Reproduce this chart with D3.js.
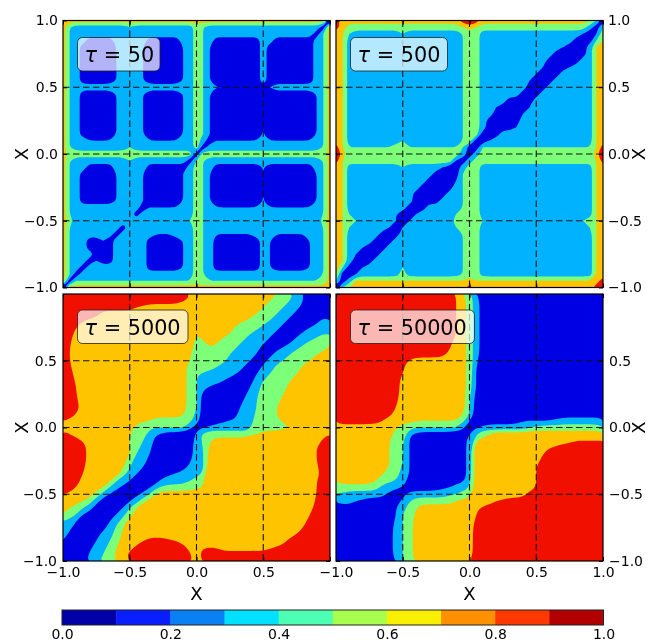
<!DOCTYPE html>
<html>
<head>
<meta charset="utf-8">
<script src="https://cdn.jsdelivr.net/npm/d3@7"></script>
<style>
  html, body { margin: 0; padding: 0; background: #fff; }
  svg { display: block; filter: blur(0.4px); }
  text { font-family: "DejaVu Sans", sans-serif; fill: #000; }
</style>
</head>
<body>
<div id="chart"></div>
<script>
// values, one row per y from 1.0 down to -1.0, 41 nodes per row
// each char is the value * 10, "b" = 1.1 (spaces are only there to help counting)
var tau50Rows = [
"7777777777 7777777777 7777777777 7777777777 1",
"74 3333333343 3333333 354 333333333 33333333 17",
"74 3333333333 3333333 354 333333333 33333331 47",
"74 3311113333 3111113 354 311111113 31111113 47",
"74 3111112333 2111112 354 211111113 11111113 47",
"74 3111112333 2111112 354 211111113 11111113 47",
"74 3111112333 2111112 354 211111113 11111113 47",
"74 3111112333 2111112 354 211111113 11111113 47",
"74 3111112333 2111112 354 211111113 11111113 47",
"74 3111112333 2111112 354 211111113 11111113 47",
"74 3333333333 3333333 354 322222221 23333333 47",
"74 3111112333 2111112 354 211111112 11111112 47",
"74 3111112333 2111112 354 211111112 11111112 47",
"74 3111112333 2111112 354 211111112 11111112 47",
"74 3111112333 2111112 354 211111112 11111112 47",
"74 3111112333 2111112 354 211111112 11111112 47",
"74 3111112333 2111112 354 211111112 11111112 47",
"74 3111112333 2111112 354 211111112 11111112 47",
"74 3322222333 3222223 353 122222222 22222223 47",
"74 3333333343 3333333 351 333333333 33333333 47",
"7555555555 5555555555 1555555555 5555555555 7",
"74 3333333343 3333333 144 333333333 33333333 47",
"74 3311113333 3111111 354 311111112 11111113 47",
"74 3111112333 2111112 354 211111112 11111112 47",
"74 3111112333 2111112 354 211111112 11111112 47",
"74 3111112333 2111112 354 211111112 11111112 47",
"74 3111112333 2111112 354 211111112 11111112 47",
"74 3111112333 2111112 354 211111112 11111112 47",
"74 3333333333 1222223 354 322222222 22222223 47",
"74 3333333331 3333333 354 333333333 33333333 47",
"75 3333333333 3333333 454 333333333 33333333 57",
"74 3333333133 3333333 354 333333333 33333333 47",
"74 3333331333 3322233 354 322222233 32222233 47",
"74 3311213333 3111112 354 311111113 21111123 47",
"74 3311113333 3111112 354 311111113 21111123 47",
"74 3331113333 3111112 354 311111113 21111123 47",
"74 3312113333 3111112 354 311111113 21111123 47",
"74 3133333333 3111112 354 311111113 21111123 47",
"74 1333333333 3333333 354 333333333 33333333 47",
"71 444444444444444444 5 444444444444444444 47",
"1777777777 7777777777 7777777777 7777777777 7"
];

var tau500Rows = [
"9777777777 7777777779 b977777777 7777777764 1",
"9755555555 5555555556 7655555555 5555555531 4",
"7643333333 4333333334 5533333333 3333333212 5",
"7633333333 3333333334 5533333333 3333331114 6",
"7633333333 3333333334 5533333333 3333211136 7",
"7633333333 3333333334 5533333333 3331111136 7",
"7633333333 3333333334 5533333333 3311111336 7",
"7633333333 3333333334 5533333333 3211123336 7",
"7633333333 3333333334 5533333333 2111333336 7",
"7633333333 3333333334 5533333332 1113333336 7",
"7633333333 3333333334 5533333331 1133333336 7",
"7633333333 3333333334 5533333311 1333333336 7",
"7633333333 3333333334 5533331111 3333333336 7",
"7633333333 3333333334 5533211112 3333333336 7",
"7633333333 3333333334 5533111123 3333333336 7",
"7633333333 3333333334 5531111133 3333333336 7",
"7633333333 3333333334 5531111233 3333333336 7",
"7633333333 3333333334 5511133333 3333333336 7",
"7633333333 4333333334 5112333333 3333333336 7",
"9644444445 5444444444 1144444444 4444444446 9",
"b755555555 5555555553 1355555555 5555555557 b",
"9655555555 5555555521 3555555555 5555555556 9",
"7633333333 4333332113 5533333333 3333333336 7",
"7633333333 3333311114 5533333333 3333333336 7",
"7633333333 3333111124 5533333333 3333333336 7",
"7633333333 3331111134 5533333333 3333333336 7",
"7633333333 3311111334 5533333333 3333333336 7",
"7633333333 3311113334 5533333333 3333333336 7",
"7633333333 3111333334 5533333333 3333333336 7",
"7643333332 1123333344 5533333333 3333333336 7",
"7654333332 1233333355 5543333333 3333333456 7",
"7643333321 2333333345 5533333333 3333333346 7",
"7633333111 3333333334 5533333333 3333333336 7",
"7633331113 3333333334 5533333333 3333333336 7",
"7633211133 3333333334 5533333333 3333333336 7",
"7632111333 3333333334 5533333333 3333333336 7",
"7631113333 3333333334 5533333333 3333333336 7",
"7411233333 4333333334 5533333333 3333333336 7",
"6112333333 5333333334 5533333333 3333333336 7",
"4136666666 6666666666 7666666666 6666666667 9",
"1467777777 7777777777 9777777777 7777777779 9"
];

var tau5000Rows = [
"9999999999 9999999998 7777777777 7765533111 1",
"9999999999 9999999997 7777777777 7655432111 1",
"9999999999 9877777777 7777777777 6554331111 1",
"9999997777 7777777777 7777777776 5543311111 1",
"9998777777 7777777777 7777777755 5433111113 3",
"9987777777 7777777777 7777775555 3331111233 3",
"9977777777 7777777777 6777765543 3311113334 5",
"9877777777 7777777777 5677555433 3111133455 6",
"9877777777 7777777777 5565554333 1112335555 6",
"9877777777 7777777777 5555543332 1133455567 7",
"9877777777 7777777776 5555533321 1334555677 7",
"9877777777 7777777775 5554333211 3355557777 7",
"9977777777 7777777775 4333332112 3455567777 7",
"9977777777 7777777775 4333211113 4555677777 7",
"9987777777 7777777775 4311111123 5555777777 7",
"9987777777 7777777775 4111111133 5556777777 7",
"9997777777 7777777775 4111111234 5557777777 7",
"9997777777 7777777775 4111111334 5567777777 7",
"9987777777 7777777775 3111111334 5567777777 7",
"9777777777 7776555555 3111123335 5557777777 7",
"7777777777 6444444443 1233333334 5555677777 7",
"9877777777 6543211111 3555555556 7777777777 8",
"9998777777 6543111111 3467777777 7777777779 9",
"9999777777 6533111111 3477777777 7777777789 9",
"9999777777 6432111111 3477777777 7777777789 9",
"9999777777 5331111111 3477777777 7777777789 9",
"9999777776 4321111113 3477777777 7777777779 9",
"9998777775 3211111333 3477777777 7777777779 9",
"9997777643 2111133334 5677777777 7777777789 9",
"9987776431 1112455555 5677777777 7777777789 9",
"9777753211 1134677777 7777777777 7777777789 9",
"7776531111 2357777777 7777777777 7777777799 9",
"7654311112 4677777777 7777777777 7777777799 9",
"6542111123 5777777777 7777777777 7777777899 9",
"5321111235 7777777777 7777777777 7777777899 9",
"3311111356 7777777777 7777777777 7777778999 9",
"3111113357 7777777777 7777777777 7777789999 9",
"2111123457 7789999877 7777777777 7777999999 9",
"1111133567 7999999997 7888777777 7799999999 9",
"1111334577 9999999999 7999999998 9999999999 9",
"1111335577 9999999999 7999999999 9999999999 9"
];

var tau50000Rows = [
"9999999999 9999999987 5311111111 1111111111 1",
"9999999999 9999999987 5311111111 1111111111 1",
"9999999999 9999999987 5311111111 1111111111 1",
"9999999999 9999999987 5311111111 1111111111 1",
"9999999999 9999999987 5311111111 1111111111 1",
"9999999999 9999999987 5311111111 1111111111 1",
"9999999999 9999999987 5311111111 1111111111 1",
"9999999999 9999999977 5311111111 1111111111 1",
"9999999999 9999999977 5311111111 1111111111 1",
"9999999999 9999999777 5311111111 1111111111 1",
"9999999999 9777777777 5311111111 1111111111 1",
"9999999999 8777777777 5211111111 1111111111 1",
"9999999999 8777777777 5211111111 1111111111 1",
"9999999999 7777777777 5211111111 1111111111 1",
"9999999999 7777777777 5211111111 1111111111 1",
"9999999999 7777777777 4111111111 1111111111 1",
"9999999999 7777777777 4111111111 1111111111 1",
"9999999998 7777777777 4111111111 1111111111 1",
"9999999997 7777777776 4111111111 1111111111 1",
"9999999877 7666666665 2111111122 2222333333 3",
"7777777776 5444444443 1233333334 5555555555 5",
"7777777765 4211111111 2456777777 7777777777 7",
"7777777765 4211111111 3677777777 7777778888 8",
"7777777765 4211111111 3777777777 7789999999 9",
"7777777765 4211111111 3777777777 7899999999 9",
"7777777765 4211111111 3777777777 7999999999 9",
"7777777765 3211111111 3777777777 8999999999 9",
"7777777655 3211111111 3777777777 8999999999 9",
"7777776554 3111111111 3777777777 7999999999 9",
"5555555333 2111111233 4777777777 8999999999 9",
"4333333311 1333333345 5677777779 9999999999 9",
"3332111111 3455555567 7777899999 9999999999 9",
"1111111112 3567777777 7799999999 9999999999 9",
"1111111112 4567777777 7899999999 9999999999 9",
"1111111113 4577777777 7999999999 9999999999 9",
"1111111113 4577777777 7999999999 9999999999 9",
"1111111113 4577777777 7999999999 9999999999 9",
"1111111113 4577777777 7999999999 9999999999 9",
"1111111113 4577777777 7999999999 9999999999 9",
"1111111113 4577777777 7999999999 9999999999 9",
"1111111113 4577777777 8999999999 9999999999 9"
];

var tauLabels = ["50", "500", "5000", "50000"];
var contourLevels = [0, 0.2, 0.4, 0.6, 0.8, 1.0];
var contourColors = ["#0000e5", "#00b2ff", "#7cff79", "#ffc400", "#f11000", "#7f0000"];
var barLevels = [0, 0.1, 0.2, 0.3, 0.4, 0.5, 0.6, 0.7, 0.8, 0.9, 1.0];
var barColors = ["#0000a8", "#0a1fff", "#0a80f5", "#00e0ff", "#4dffb2", "#a8ff4d", "#f8f000", "#ff9000", "#ff3800", "#b20000"];
var barTicks = [0, 0.2, 0.4, 0.6, 0.8, 1.0];
var axisTicks = [-1, -0.5, 0, 0.5, 1];
var gridLines = [-0.5, 0, 0.5];

var fmt = d3.format(".1f");
var svg = d3.select("#chart").append("svg").attr("width", 648).attr("height", 643);

function parseRows(rows){
  var values = [];
  rows.forEach(function(row){
    row.replace(/ /g, "").split("").forEach(function(c){
      values.push(parseInt(c, 16) / 10);
    });
  });
  return values;
}

function drawPanel(cfg, idx){
  var n = 41;
  var x = d3.scaleLinear().domain([-1, 1]).range([cfg.left, cfg.left + 267]);
  var y = d3.scaleLinear().domain([-1, 1]).range([cfg.top + 267, cfg.top]);
  var step = 2 / (n - 1);
  var g = svg.append("g");

  g.append("clipPath").attr("id", "clip" + idx).append("rect")
    .attr("x", cfg.left).attr("y", cfg.top).attr("width", 267).attr("height", 267);

  // d3.contours puts node k at k + 0.5; rings are drawn with a basis curve to round them
  var ringLine = d3.line()
    .x(function(p){ return x(-1 + (p[0] - 0.5) * step); })
    .y(function(p){ return y(1 - (p[1] - 0.5) * step); })
    .curve(d3.curveBasisClosed);
  function contourPath(d){
    var out = "";
    d.coordinates.forEach(function(poly){
      poly.forEach(function(ring){
        var pts = ring.slice(0, -1);
        // the smooth panels take every other vertex, it gets rid of the stairs
        if(pts.length > 16 && cfg.ringStep > 1){
          pts = pts.filter(function(p, i){ return i % cfg.ringStep == 0; });
        }
        out += ringLine(pts);
      });
    });
    return out;
  }
  var contours = d3.contours().size([n, n]).thresholds(contourLevels)(parseRows(cfg.rows));

  g.append("g").attr("clip-path", "url(#clip" + idx + ")")
    .selectAll("path").data(contours).enter().append("path")
    .attr("d", contourPath)
    .attr("fill", function(d){ return contourColors[contourLevels.indexOf(d.value)]; });

  // dashed grid
  g.selectAll(".gv").data(gridLines).enter().append("line")
    .attr("x1", function(d){ return x(d); }).attr("x2", function(d){ return x(d); })
    .attr("y1", cfg.top).attr("y2", cfg.top + 267)
    .attr("stroke", "#111").attr("stroke-width", 1.1).attr("stroke-dasharray", "6.5,3.5");
  g.selectAll(".gh").data(gridLines).enter().append("line")
    .attr("y1", function(d){ return y(d); }).attr("y2", function(d){ return y(d); })
    .attr("x1", cfg.left).attr("x2", cfg.left + 267)
    .attr("stroke", "#111").attr("stroke-width", 1.1).attr("stroke-dasharray", "6.5,3.5");

  // axes, ticks go inward, labels only where the original has them
  function label(list){
    return function(d){ return list.indexOf(d) >= 0 ? fmt(d) : ""; };
  }
  function addAxis(axis, tx, ty, list){
    var a = g.append("g").attr("transform", "translate(" + tx + "," + ty + ")")
      .call(axis.tickValues(axisTicks).tickSizeOuter(0).tickSizeInner(-4).tickPadding(cfg.pad).tickFormat(label(list)));
    a.select(".domain").remove();
    a.selectAll("line").attr("stroke", "#000");
    a.selectAll("text").attr("font-size", 14).attr("fill", "#000").attr("font-family", "DejaVu Sans");
  }
  addAxis(d3.axisLeft(y), cfg.left, 0, cfg.leftLabels);
  addAxis(d3.axisRight(y), cfg.left + 267, 0, cfg.rightLabels);
  addAxis(d3.axisBottom(x), 0, cfg.top + 267, cfg.bottomLabels);
  addAxis(d3.axisTop(x), 0, cfg.top, []);

  g.append("rect").attr("x", cfg.left).attr("y", cfg.top).attr("width", 267).attr("height", 267)
    .attr("fill", "none").attr("stroke", "#000").attr("stroke-width", 1.2);

  // legend box
  var lx = cfg.left + 14.5, ly = cfg.top + cfg.legendDy;
  g.append("rect").attr("x", lx).attr("y", ly).attr("width", cfg.legendW).attr("height", 33.5).attr("rx", 5)
    .attr("fill", "#fff").attr("fill-opacity", 0.7).attr("stroke", "#222").attr("stroke-opacity", 0.8).attr("stroke-width", 1);
  var t = g.append("text").attr("x", lx + 7).attr("y", ly + 24.5).attr("font-size", 20.8).attr("fill", "#111");
  t.append("tspan").attr("font-style", "italic").text("\u03c4");
  t.append("tspan").text(" = " + cfg.tau);

  // X labels
  if(cfg.xLabel){
    g.append("text").attr("x", cfg.left + 133.5).attr("y", 600).attr("text-anchor", "middle").attr("font-size", 18).text("X");
  }
  g.append("text").attr("text-anchor", "middle").attr("font-size", 18)
    .attr("transform", "translate(" + cfg.yLabelX + "," + (cfg.top + 133.5) + ") rotate(-90)")
    .text("X");
}

var panels = [
  {rows: tau50Rows, tau: tauLabels[0], ringStep: 1, left: 63, top: 20.5, pad: 5, legendDy: 17, legendW: 82.5, yLabelX: 28, xLabel: false,
   leftLabels: axisTicks, rightLabels: [], bottomLabels: []},
  {rows: tau500Rows, tau: tauLabels[1], ringStep: 1, left: 336, top: 20.5, pad: 5, legendDy: 17, legendW: 97, yLabelX: 645, xLabel: false,
   leftLabels: [], rightLabels: axisTicks, bottomLabels: []},
  {rows: tau5000Rows, tau: tauLabels[2], ringStep: 2, left: 63, top: 294, pad: 6, legendDy: 16, legendW: 110.5, yLabelX: 28, xLabel: true,
   leftLabels: [-1, -0.5, 0, 0.5], rightLabels: [], bottomLabels: [-1, -0.5, 0, 0.5]},
  {rows: tau50000Rows, tau: tauLabels[3], ringStep: 2, left: 336, top: 294, pad: 6, legendDy: 16, legendW: 124, yLabelX: 645, xLabel: true,
   leftLabels: [], rightLabels: [-1, -0.5, 0, 0.5], bottomLabels: axisTicks}
];
panels.forEach(drawPanel);

// colorbar
var cx = d3.scaleLinear().domain([0, 1]).range([62, 603.5]);
svg.selectAll(".seg").data(barColors).enter().append("rect")
  .attr("x", function(d, i){ return cx(barLevels[i]); })
  .attr("width", function(d, i){ return cx(barLevels[i + 1]) - cx(barLevels[i]) + 0.5; })
  .attr("y", 610).attr("height", 15)
  .attr("fill", function(d){ return d; });
svg.append("rect").attr("x", cx(0)).attr("y", 610).attr("width", cx(1) - cx(0)).attr("height", 15)
  .attr("fill", "none").attr("stroke", "#222").attr("stroke-width", 1);
var barAxis = svg.append("g").attr("transform", "translate(0,625)")
  .call(d3.axisBottom(cx).tickValues(barTicks).tickSize(0).tickPadding(4).tickFormat(fmt));
barAxis.select(".domain").remove();
barAxis.selectAll("text").attr("font-size", 14).attr("fill", "#000").attr("font-family", "DejaVu Sans");
</script>
</body>
</html>
